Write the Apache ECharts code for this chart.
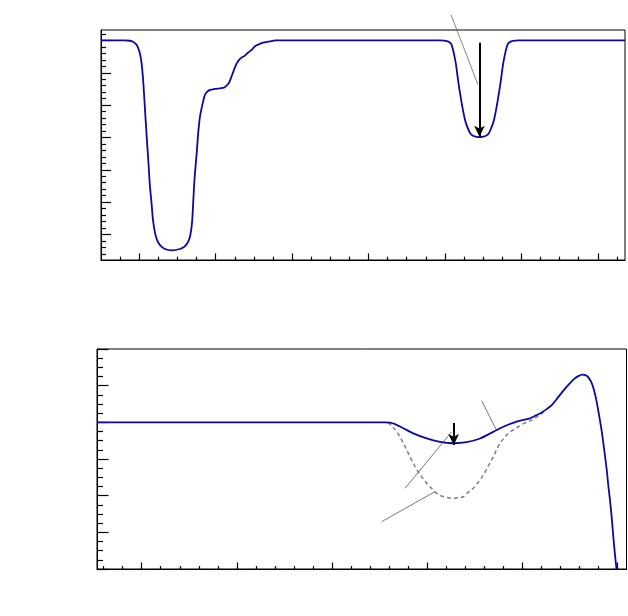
<!DOCTYPE html>
<html lang="en">
<head>
  <meta charset="UTF-8">
  <title>spectra</title>
  <script src="https://cdn.jsdelivr.net/npm/echarts@6/dist/echarts.min.js"></script>
  <style type="text/css">
    body { margin: 0; background: #fff; }
    #main { width: 628px; height: 616px; }
  </style>
</head>
<body>
  <div id="main"></div>

  <script type="text/javascript">
    // upper panel: transmission curve
    var topX = [0.5, 0.814, 0.879, 0.919, 0.964, 0.991, 1.010, 1.023, 1.036, 1.050, 1.063, 1.076, 1.098, 1.121, 1.141, 1.161,
      1.180, 1.207, 1.233, 1.272, 1.337, 1.425, 1.534, 1.586, 1.621, 1.645, 1.664, 1.680, 1.694, 1.708, 1.723, 1.752, 1.776,
      1.795, 1.818, 1.841, 1.861, 1.887, 1.926, 1.992, 2.057, 2.109, 2.142, 2.175, 2.207, 2.240, 2.273, 2.306, 2.345, 2.384,
      2.423, 2.472, 2.515, 2.567, 2.620, 2.685, 2.790,
      4.935, 5.027, 5.066, 5.086, 5.106, 5.125, 5.145, 5.164, 5.184, 5.197, 5.223, 5.263, 5.295, 5.328, 5.367, 5.413, 5.452,
      5.492, 5.537, 5.577, 5.609, 5.642, 5.681, 5.707, 5.720, 5.740, 5.760, 5.779, 5.799, 5.819, 5.838, 5.877, 5.969, 7.356];
    var topY = [6.0, 6.0, 5.99, 5.96, 5.87, 5.74, 5.59, 5.43, 5.19, 4.81, 4.35, 3.85, 3.02, 2.21, 1.47, 0.98,
      0.45, 0.05, -0.17, -0.33, -0.45, -0.49, -0.45, -0.39, -0.30, -0.20, -0.07, 0.14, 0.45, 1.07, 1.69, 2.52, 3.24,
      3.64, 3.92, 4.16, 4.32, 4.41, 4.47, 4.50, 4.52, 4.54, 4.60, 4.69, 4.88, 5.09, 5.28, 5.40, 5.48, 5.53,
      5.62, 5.71, 5.82, 5.88, 5.93, 5.96, 6.0,
      6.0, 5.98, 5.93, 5.87, 5.71, 5.50, 5.25, 4.91, 4.57, 4.38, 4.01, 3.54, 3.31, 3.14, 3.05, 3.02, 3.01,
      3.02, 3.05, 3.14, 3.31, 3.54, 4.01, 4.38, 4.57, 4.91, 5.25, 5.50, 5.71, 5.87, 5.93, 5.98, 6.0, 6.0];

    // lower panel: measured curve and dashed reference
    var botX = [0.5305, 3.556, 3.608, 3.661, 3.748, 3.853, 3.994, 4.133, 4.273, 4.414, 4.554, 4.693, 4.798, 4.939, 5.079,
      5.142, 5.202, 5.254, 5.307, 5.352, 5.394, 5.447, 5.499, 5.541, 5.586, 5.630, 5.667, 5.694, 5.727, 5.751, 5.780, 5.804,
      5.832, 5.856, 5.885, 5.903, 5.919, 5.935, 5.954, 5.972, 5.987, 5.992];
    var botY = [4.0, 4.0, 3.99, 3.95, 3.84, 3.70, 3.56, 3.47, 3.43, 3.46, 3.56, 3.74, 3.88, 4.02, 4.11,
      4.19, 4.27, 4.36, 4.47, 4.61, 4.75, 4.92, 5.07, 5.18, 5.26, 5.30, 5.28, 5.22, 5.07, 4.88, 4.55, 4.20,
      3.76, 3.30, 2.70, 2.24, 1.88, 1.47, 0.88, 0.38, 0.0, -0.16];
    var dashX = [3.587, 3.629, 3.679, 3.713, 3.748, 3.784, 3.818, 3.860, 3.905, 3.950, 3.994, 4.044, 4.099, 4.149, 4.204,
      4.249, 4.291, 4.333, 4.378, 4.427, 4.483, 4.533, 4.588, 4.638, 4.693, 4.727, 4.764, 4.806, 4.851, 4.900, 4.956,
      5.016, 5.079, 5.142, 5.202, 5.236];
    var dashY = [4.0, 3.90, 3.74, 3.60, 3.43, 3.25, 3.06, 2.85, 2.65, 2.48, 2.34, 2.20, 2.06, 1.99, 1.95,
      1.93, 1.93, 1.95, 1.97, 2.09, 2.20, 2.36, 2.56, 2.80, 3.06, 3.25, 3.43, 3.57, 3.70, 3.79, 3.88,
      3.97, 4.04, 4.13, 4.24, 4.32];

    // axis ranges and ticks
    var topXRange = [0.5, 7.356], topYRange = [-0.79, 6.322];
    var botXRange = [0.5305, 6.0925], botYRange = [0, 6];
    var topXMajor = [1, 2, 3, 4, 5, 6, 7];
    var topYMajor = [0, 1, 2, 3, 4, 5, 6];
    var botXMajor = [1, 2, 3, 4, 5, 6];
    var botYMajor = [0, 1, 2, 3, 4, 5, 6];

    // annotation arrows and pointer lines [x1, y1, x2, y2]
    var topArrow = [5.452, 5.93, 5.452, 3.02];
    var topPointer = [5.079, 6.796, 5.433, 4.628];
    var botArrow = [4.277, 3.98, 4.277, 3.38];
    var botPointers = [
      [4.571, 4.59, 4.722, 3.81],
      [3.766, 2.20, 4.256, 3.74],
      [3.521, 1.29, 4.081, 2.11]
    ];

    function minors(from, to, step, majors) {
      var out = [];
      for (var v = from; v <= to + 1e-9; v += step) {
        var r = Math.round(v * 1000) / 1000;
        if (majors.indexOf(r) < 0) out.push(r);
      }
      return out;
    }

    function zip(xs, ys) {
      return xs.map(function (x, i) { return [x, ys[i]]; });
    }

    function makeAxis(dim, grid, range, ticks, len, showLine) {
      return {
        type: 'value', gridIndex: grid, min: range[0], max: range[1],
        position: dim === 'x' ? 'bottom' : 'left',
        axisLine: { show: showLine, onZero: false, lineStyle: { color: '#000', width: 1 } },
        axisTick: { show: true, inside: true, length: len, customValues: ticks, lineStyle: { color: '#000', width: 1.2 } },
        axisLabel: { show: false, customValues: ticks },
        splitLine: { show: false }
      };
    }

    var myChart = echarts.init(document.getElementById('main'), null, { renderer: 'canvas' });

    var blue = '#0a0a9e';

    var series = [
      {
        type: 'line', xAxisIndex: 0, yAxisIndex: 0, data: zip(topX, topY),
        showSymbol: false, smooth: 0.3, lineStyle: { color: blue, width: 1.8 }
      },
      {
        type: 'line', xAxisIndex: 0, yAxisIndex: 0, clip: false,
        data: [[topPointer[0], topPointer[1]], [topPointer[2], topPointer[3]]],
        showSymbol: false, lineStyle: { color: '#666', width: 0.8 }
      },
      {
        type: 'line', xAxisIndex: 0, yAxisIndex: 0, data: [], silent: true,
        markLine: {
          silent: true, symbol: ['none', 'arrow'], symbolSize: [8, 11],
          label: { show: false }, lineStyle: { color: '#000', width: 2, type: 'solid' },
          data: [[{ coord: [topArrow[0], topArrow[1]] }, { coord: [topArrow[2], topArrow[3]] }]]
        }
      },
      {
        type: 'line', xAxisIndex: 2, yAxisIndex: 2, data: zip(dashX, dashY),
        showSymbol: false, smooth: 0.3, lineStyle: { color: '#808080', width: 1.5, type: [4, 3] }
      },
      {
        type: 'line', xAxisIndex: 2, yAxisIndex: 2, data: zip(botX, botY),
        showSymbol: false, smooth: 0.3, lineStyle: { color: blue, width: 1.8 }
      },
      {
        type: 'line', xAxisIndex: 2, yAxisIndex: 2, data: [], silent: true,
        markLine: {
          silent: true, symbol: ['none', 'arrow'], symbolSize: [8, 11],
          label: { show: false }, lineStyle: { color: '#000', width: 2, type: 'solid' },
          data: [[{ coord: [botArrow[0], botArrow[1]] }, { coord: [botArrow[2], botArrow[3]] }]]
        }
      }
    ];

    botPointers.forEach(function (p) {
      series.push({
        type: 'line', xAxisIndex: 2, yAxisIndex: 2,
        data: [[p[0], p[1]], [p[2], p[3]]],
        showSymbol: false, lineStyle: { color: '#555', width: 0.8 }
      });
    });

    var option = {
      backgroundColor: '#fff',
      animation: false,
      grid: [
        { left: 101, top: 30, width: 524, height: 230, show: true, borderColor: '#000', borderWidth: 1 },
        { left: 97, top: 349, width: 529.5, height: 220, show: true, borderColor: '#000', borderWidth: 1 }
      ],
      xAxis: [
        makeAxis('x', 0, topXRange, topXMajor, 6.5, true),
        makeAxis('x', 0, topXRange, minors(0.75, 7.25, 0.25, topXMajor), 3.3, false),
        makeAxis('x', 1, botXRange, botXMajor, 6.5, true),
        makeAxis('x', 1, botXRange, minors(0.6, 6.0, 0.2, botXMajor), 3, false)
      ],
      yAxis: [
        makeAxis('y', 0, topYRange, topYMajor, 10, true),
        makeAxis('y', 0, topYRange, minors(-0.8, 6.2, 0.2, topYMajor), 5, false),
        makeAxis('y', 1, botYRange, botYMajor, 11.5, true),
        makeAxis('y', 1, botYRange, minors(0.25, 5.75, 0.25, botYMajor), 6, false)
      ],
      series: series
    };

    myChart.setOption(option);
  </script>
</body>
</html>
